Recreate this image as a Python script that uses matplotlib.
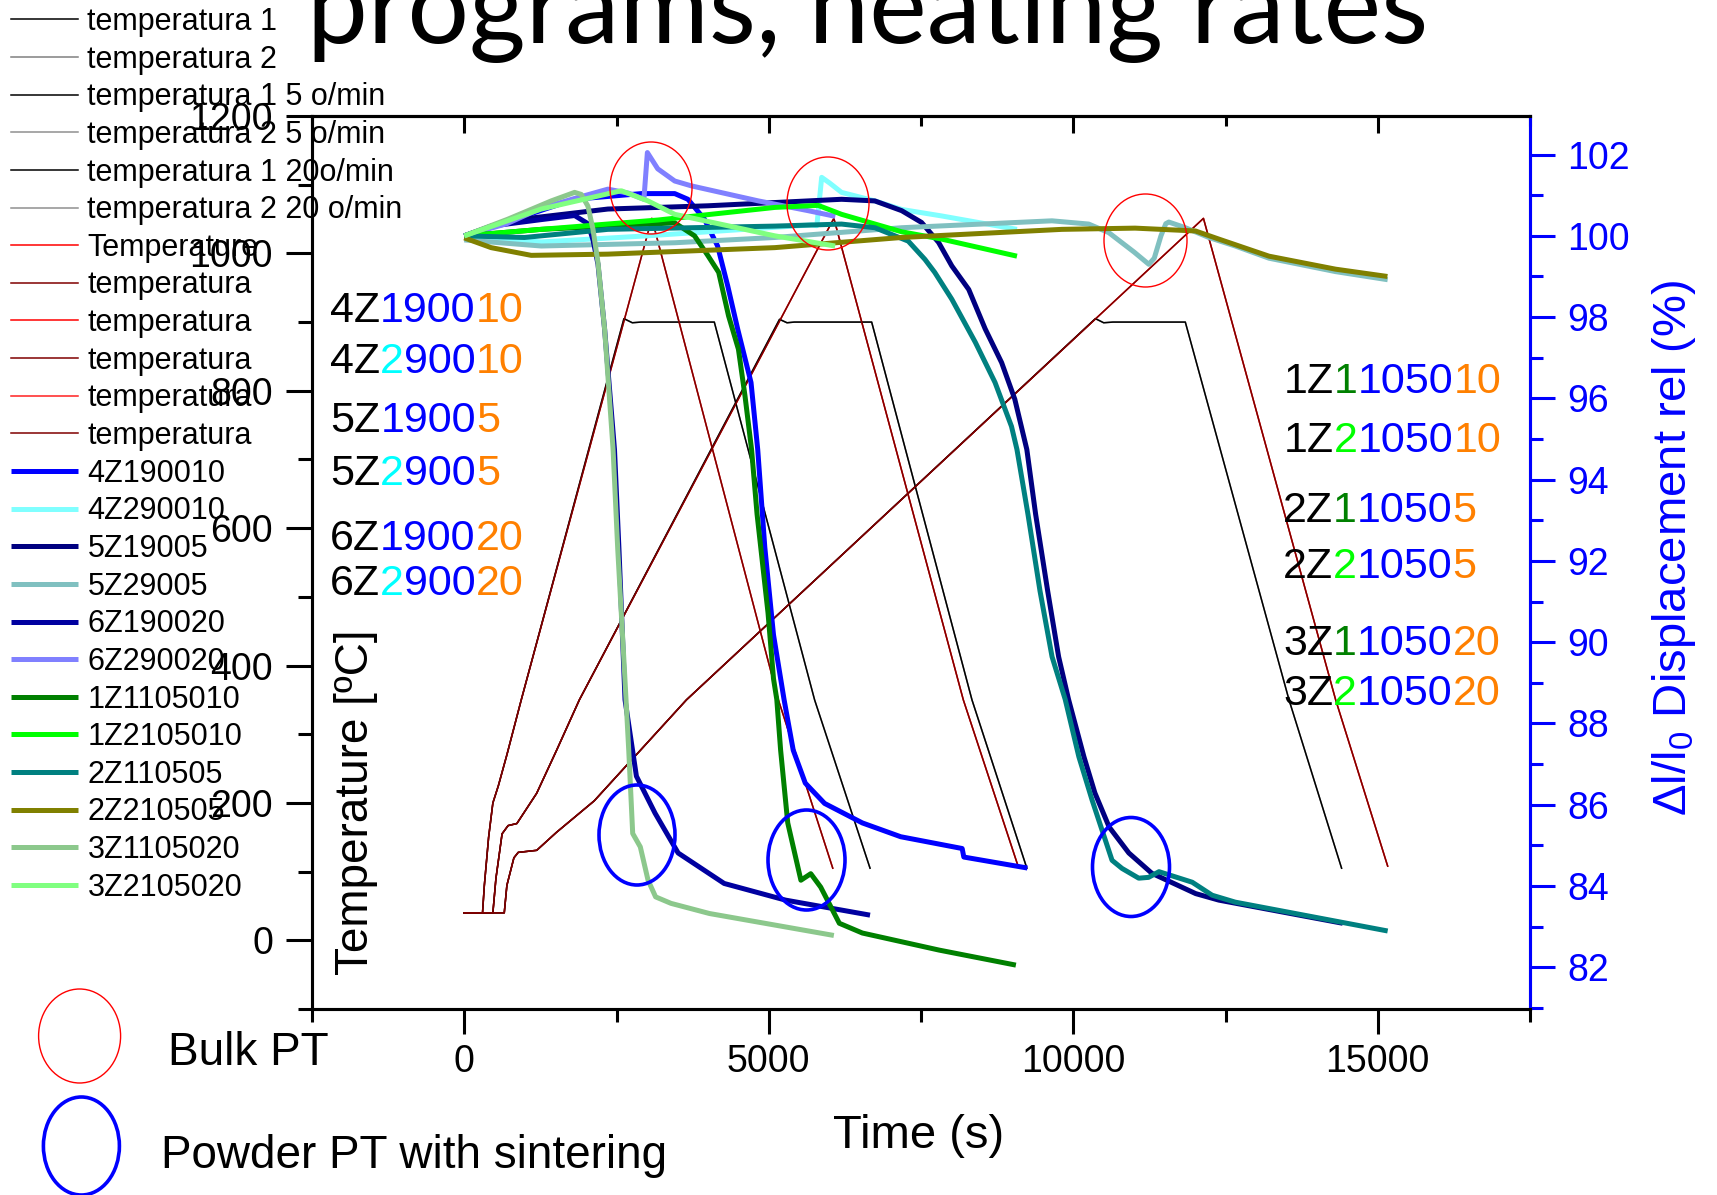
import matplotlib
matplotlib.use('Agg')
import matplotlib.pyplot as plt
from matplotlib.patches import Ellipse
from matplotlib.ticker import MultipleLocator

plt.rcParams['font.family'] = ['Liberation Sans', 'DejaVu Sans']
plt.rcParams['mathtext.fontset'] = 'custom'
plt.rcParams['mathtext.rm'] = 'Liberation Sans'
plt.rcParams['mathtext.it'] = 'Liberation Sans:italic'

# ---------------- temperature programs (left axis, degC) ----------------
B10_t = [0, 470, 520, 621, 720, 864, 1189, 1513, 1890, 5177, 5300, 5420, 6690, 8337, 9238]
B10_T = [40, 40, 90, 155, 167, 170, 214, 276, 350, 904, 899, 900, 900, 350, 105]
B5_t = [0, 657, 700, 815, 886, 1190, 1512, 2134, 3648, 10364, 10500, 10650, 11840, 13543, 14406]
B5_T = [40, 40, 80, 120, 128, 131, 157, 203, 350, 905, 899, 900, 900, 350, 105]
B20_t = [0, 300, 330, 400, 470, 560, 700, 936, 2622, 2760, 2900, 4106, 5753, 6663]
B20_T = [40, 40, 80, 150, 200, 225, 270, 350, 905, 899, 900, 900, 350, 105]

R10_t = [0, 470, 520, 621, 720, 864, 1189, 1513, 1890, 6069, 8195, 9094]
R10_T = [40, 40, 90, 155, 167, 170, 214, 276, 350, 1051, 350, 108]
R5_t = [0, 657, 700, 815, 886, 1190, 1512, 2134, 3648, 12138, 14309, 15163]
R5_T = [40, 40, 80, 120, 128, 131, 157, 203, 350, 1051, 350, 108]
R20_t = [0, 300, 330, 400, 470, 560, 700, 936, 3080, 5158, 6051]
R20_T = [40, 40, 80, 150, 200, 225, 270, 350, 1051, 350, 105]

# ---------------- displacement curves (right axis, %) ----------------
s4Z1_t = [0, 1812, 2908, 3456, 3673, 3944, 4160, 4326, 4491, 4709, 4819, 4935, 5078, 5251, 5402, 5600, 5917, 6537, 7167, 8176, 8203, 9247]
s4Z1_d = [100.0, 100.9, 101.04, 101.04, 100.9, 100.41, 99.75, 98.77, 97.7, 96.39, 94.74, 92.34, 90.18, 88.59, 87.34, 86.53, 86.03, 85.55, 85.21, 84.92, 84.71, 84.44]
s4Z2_t = [0, 1264, 3000, 5000, 5700, 5790, 5869, 6000, 6195, 6742, 7183, 7839, 9076]
s4Z2_d = [100.0, 99.85, 100.0, 100.2, 100.27, 100.25, 101.44, 101.3, 101.07, 100.86, 100.65, 100.49, 100.16]
s5Z1_t = [0, 715, 2359, 4003, 5100, 6195, 6742, 7183, 7509, 7788, 8006, 8284, 8554, 8824, 9040, 9238, 9382, 9580, 9760, 9923, 10175, 10355, 10589, 10913, 11291, 12011, 12390, 14425]
s5Z1_d = [100.0, 100.37, 100.66, 100.74, 100.82, 100.9, 100.86, 100.62, 100.33, 99.84, 99.26, 98.68, 97.71, 96.88, 95.98, 94.74, 93.15, 91.26, 89.64, 88.59, 87.18, 86.29, 85.45, 84.81, 84.31, 83.81, 83.65, 83.08]
s5Z2_t = [0, 1264, 3456, 5100, 7183, 9650, 10254, 10583, 11000, 11241, 11330, 11440, 11520, 11569, 11842, 12227, 12660, 13214, 14307, 15163]
s5Z2_d = [99.9, 99.75, 99.83, 99.96, 100.2, 100.37, 100.29, 100.08, 99.6, 99.3, 99.45, 100.0, 100.3, 100.34, 100.2, 99.96, 99.75, 99.45, 99.12, 98.92]
s6Z1_t = [0, 441, 1264, 1812, 2031, 2114, 2196, 2305, 2467, 2540, 2640, 2827, 3133, 3512, 4268, 5276, 6663]
s6Z1_d = [100.0, 100.24, 100.4, 100.5, 100.3, 99.9, 99.3, 97.7, 94.74, 92.3, 88.58, 86.7, 85.79, 84.81, 84.06, 83.65, 83.28]
s6Z2_t = [0, 700, 1264, 1812, 2359, 2700, 2950, 3007, 3177, 3456, 3730, 4830, 5646, 6093]
s6Z2_d = [100.0, 100.3, 100.68, 100.92, 101.15, 101.05, 100.9, 102.05, 101.65, 101.35, 101.23, 100.86, 100.62, 100.48]
s1Z1_t = [0, 1264, 2359, 3456, 3782, 3998, 4178, 4340, 4502, 4610, 4718, 4808, 4988, 5078, 5132, 5195, 5312, 5528, 5690, 5853, 6159, 6537, 7797, 9058]
s1Z1_d = [100.0, 100.16, 100.24, 100.32, 100.0, 99.52, 99.1, 98.03, 97.21, 96.06, 94.74, 93.15, 90.72, 89.1, 88.59, 87.34, 85.55, 84.14, 84.3, 83.97, 83.08, 82.84, 82.42, 82.05]
s1Z2_t = [0, 1264, 3183, 5100, 5812, 6195, 7183, 7839, 9076]
s1Z2_d = [100.0, 100.16, 100.39, 100.7, 100.75, 100.53, 100.1, 99.92, 99.5]
s2Z1_t = [0, 989, 2359, 5100, 6195, 6742, 7291, 7565, 7726, 8006, 8392, 8716, 8986, 9076, 9256, 9454, 9652, 9868, 10092, 10310, 10637, 10801, 11075, 11237, 11408, 11954, 12281, 12660, 15163]
s2Z1_d = [100.0, 99.96, 100.16, 100.24, 100.29, 100.2, 99.87, 99.42, 99.1, 98.44, 97.38, 96.39, 95.31, 94.74, 93.15, 91.26, 89.64, 88.59, 87.18, 86.11, 84.63, 84.43, 84.19, 84.21, 84.35, 84.09, 83.77, 83.6, 82.89]
s2Z2_t = [0, 441, 1100, 2359, 5100, 7183, 9815, 11016, 12007, 12391, 13214, 14307, 15159]
s2Z2_d = [99.95, 99.71, 99.52, 99.55, 99.71, 99.96, 100.16, 100.19, 100.12, 99.92, 99.5, 99.18, 99.0]
s3Z1_t = [0, 715, 1428, 1812, 1921, 2031, 2114, 2196, 2305, 2444, 2520, 2620, 2701, 2766, 2891, 3018, 3142, 3395, 4027, 6069]
s3Z1_d = [100.0, 100.41, 100.86, 101.07, 101.02, 100.73, 100.16, 99.34, 97.7, 94.74, 92.3, 89.6, 87.34, 85.29, 84.96, 84.14, 83.73, 83.57, 83.32, 82.78]
s3Z2_t = [0, 1264, 2578, 3017, 3456, 5100, 6090]
s3Z2_d = [100.0, 100.66, 101.11, 100.86, 100.53, 100.0, 99.75]

x_ticks = [0, 5000, 10000, 15000]
yl_ticks = [0, 200, 400, 600, 800, 1000, 1200]
yr_ticks = [82, 84, 86, 88, 90, 92, 94, 96, 98, 100, 102]

W, H = 1717, 1195
fig = plt.figure(figsize=(W / 100, H / 100), dpi=100)
L, R, T, B = 312, 1530, 116, 1009
ax = fig.add_axes([L / W, 1 - B / H, (R - L) / W, (B - T) / H])
ax2 = ax.twinx()

temp_series = [
    ('temperatura 1', B10_t, B10_T, '#000000', 1.1, 2.1),
    ('temperatura 2', B10_t, B10_T, '#808080', 1.1, 2.0),
    ('temperatura 1 5 o/min', B5_t, B5_T, '#000000', 1.1, 2.1),
    ('temperatura 2 5 o/min', B5_t, B5_T, '#909090', 1.1, 2.0),
    ('temperatura 1 20o/min', B20_t, B20_T, '#000000', 1.1, 2.1),
    ('temperatura 2 20 o/min', B20_t, B20_T, '#909090', 1.1, 2.0),
    ('Temperature', R10_t, R10_T, '#ff0000', 1.1, 2.0),
    ('temperatura', R10_t, R10_T, '#800000', 1.1, 2.1),
    ('temperatura', R5_t, R5_T, '#ff0000', 1.1, 2.0),
    ('temperatura', R5_t, R5_T, '#800000', 1.1, 2.1),
    ('temperatura', R20_t, R20_T, '#ff2020', 1.1, 2.0),
    ('temperatura', R20_t, R20_T, '#800000', 1.1, 2.1),
]
disp_series = [
    ('4Z190010', s4Z1_t, s4Z1_d, '#0000ff'),
    ('4Z290010', s4Z2_t, s4Z2_d, '#80ffff'),
    ('5Z19005', s5Z1_t, s5Z1_d, '#000080'),
    ('5Z29005', s5Z2_t, s5Z2_d, '#80c0c0'),
    ('6Z190020', s6Z1_t, s6Z1_d, '#0000a0'),
    ('6Z290020', s6Z2_t, s6Z2_d, '#8080ff'),
    ('1Z1105010', s1Z1_t, s1Z1_d, '#008000'),
    ('1Z2105010', s1Z2_t, s1Z2_d, '#00ff00'),
    ('2Z110505', s2Z1_t, s2Z1_d, '#008080'),
    ('2Z210505', s2Z2_t, s2Z2_d, '#808000'),
    ('3Z1105020', s3Z1_t, s3Z1_d, '#8cc88c'),
    ('3Z2105020', s3Z2_t, s3Z2_d, '#80ff80'),
]

handles, labels = [], []
for lab, tx, ty, c, lw, z in temp_series:
    ln, = ax.plot(tx, ty, color=c, lw=lw, zorder=z, solid_joinstyle='round')
    handles.append(ln); labels.append(lab)
for lab, tx, ty, c in disp_series:
    ln, = ax2.plot(tx, ty, color=c, lw=3.6, solid_capstyle='butt', solid_joinstyle='round')
    handles.append(ln); labels.append(lab)

ax.set_xlim(-2500, 17500)
ax.set_ylim(-100, 1200)
ax2.set_ylim(80.97, 102.95)
ax.set_xticks(x_ticks)
ax.set_yticks(yl_ticks)
ax2.set_yticks(yr_ticks)
ax.xaxis.set_minor_locator(MultipleLocator(2500))
ax.yaxis.set_minor_locator(MultipleLocator(100))
ax2.yaxis.set_minor_locator(MultipleLocator(1))

for sp in ax.spines.values():
    sp.set_linewidth(2.2)
for sp in ax2.spines.values():
    sp.set_linewidth(2.2)
ax2.spines['right'].set_color('#0000ff')

ax.tick_params(axis='y', which='major', direction='out', length=19, width=2.2, labelsize=27, pad=9)
ax.tick_params(axis='y', which='minor', direction='out', length=10, width=2.2)
ax.tick_params(axis='x', which='major', direction='out', length=18, width=2.2, labelsize=27, pad=7)
ax.tick_params(axis='x', which='minor', direction='out', length=9, width=2.2)
ax2.tick_params(axis='y', which='major', direction='out', length=18, width=2.2, labelsize=27, pad=9,
                colors='#0000ff')
ax2.tick_params(axis='y', which='minor', direction='out', length=9, width=2.2, colors='#0000ff')

top = ax.secondary_xaxis('top')
top.set_xticks(x_ticks)
top.xaxis.set_minor_locator(MultipleLocator(2500))
top.tick_params(axis='x', which='major', direction='in', length=12, width=2.2, labeltop=False)
top.tick_params(axis='x', which='minor', direction='in', length=7, width=2.2)
top.spines['top'].set_linewidth(2.2)

# axis labels
fig.text(919 / W, 1 - 1148 / H, 'Time (s)', fontsize=34, ha='center', va='baseline')
fig.text(356 / W, 1 - 802 / H, 'Temperature [ºC]', fontsize=33, rotation=90, ha='center', va='center')
fig.text(1674 / W, 1 - 548 / H, 'Δl/l$_{0}$ Displacement rel (%)', fontsize=34, rotation=90,
         ha='center', va='center', color='#0000ff')

# title (partially cut off at the top)
r = fig.canvas.get_renderer()
tt = fig.text(307 / W, 1 - 43 / H, 'programs, heating rates', family=['Lato', 'DejaVu Sans'],
              fontsize=80, ha='left', va='baseline')
w = tt.get_window_extent(r).width
tt.set_fontsize(80 * 1122 / w)

# legend
leg = fig.legend(handles, labels, loc='upper left', bbox_to_anchor=(11 / W, 1 - 7 / H),
                 frameon=False, fontsize=22, handlelength=2.2, handletextpad=0.3,
                 labelspacing=0.25, borderpad=0, borderaxespad=0)

# multi-coloured sample labels
K, BL, CY, OR, GR, LI = '#000000', '#0000ff', '#00ffff', '#ff8000', '#008000', '#00ff00'
sample_labels = [
    (330, 322, [('4Z', K), ('1900', BL), ('10', OR)]),
    (330, 373, [('4Z', K), ('2', CY), ('900', BL), ('10', OR)]),
    (330, 432, [('5Z', K), ('1900', BL), ('5', OR)]),
    (330, 485, [('5Z', K), ('2', CY), ('900', BL), ('5', OR)]),
    (330, 550, [('6Z', K), ('1900', BL), ('20', OR)]),
    (330, 595, [('6Z', K), ('2', CY), ('900', BL), ('20', OR)]),
    (1284, 393, [('1Z', K), ('1', GR), ('1050', BL), ('10', OR)]),
    (1284, 452, [('1Z', K), ('2', LI), ('1050', BL), ('10', OR)]),
    (1283, 522, [('2Z', K), ('1', GR), ('1050', BL), ('5', OR)]),
    (1283, 578, [('2Z', K), ('2', LI), ('1050', BL), ('5', OR)]),
    (1283, 655, [('3Z', K), ('1', GR), ('1050', BL), ('20', OR)]),
    (1283, 705, [('3Z', K), ('2', LI), ('1050', BL), ('20', OR)]),
]
for x0, y0, parts in sample_labels:
    x = x0
    for s, c in parts:
        t = fig.text(x / W, 1 - y0 / H, s, color=c, fontsize=31, ha='left', va='baseline')
        x += t.get_window_extent(r).width

# bulk PT (red) / powder PT (blue) markers
red_circ = [(651, 188, 82, 92), (828, 203.5, 82, 93), (1145.5, 240.5, 83, 93)]
blue_circ = [(637, 835, 76, 100), (806.5, 860, 77, 100), (1131, 867, 77, 99)]
for cx, cy, ew, eh in red_circ:
    fig.patches.append(Ellipse((cx / W, 1 - cy / H), ew / W, eh / H, transform=fig.transFigure,
                               fill=False, edgecolor='#ff0000', lw=1.0, zorder=10))
for cx, cy, ew, eh in blue_circ:
    fig.patches.append(Ellipse((cx / W, 1 - cy / H), ew / W, eh / H, transform=fig.transFigure,
                               fill=False, edgecolor='#0000ff', lw=2.6, zorder=10))

fig.patches.append(Ellipse((79.6 / W, 1 - 1036 / H), 82 / W, 94 / H, transform=fig.transFigure,
                           fill=False, edgecolor='#ff0000', lw=1.0))
fig.patches.append(Ellipse((81.4 / W, 1 - 1146 / H), 76 / W, 98 / H, transform=fig.transFigure,
                           fill=False, edgecolor='#0000ff', lw=2.6))
fig.text(168 / W, 1 - 1065 / H, 'Bulk PT', fontsize=33, ha='left', va='baseline')
fig.text(161 / W, 1 - 1168 / H, 'Powder PT with sintering', fontsize=33, ha='left', va='baseline')

fig.savefig('out.png', dpi=100)
